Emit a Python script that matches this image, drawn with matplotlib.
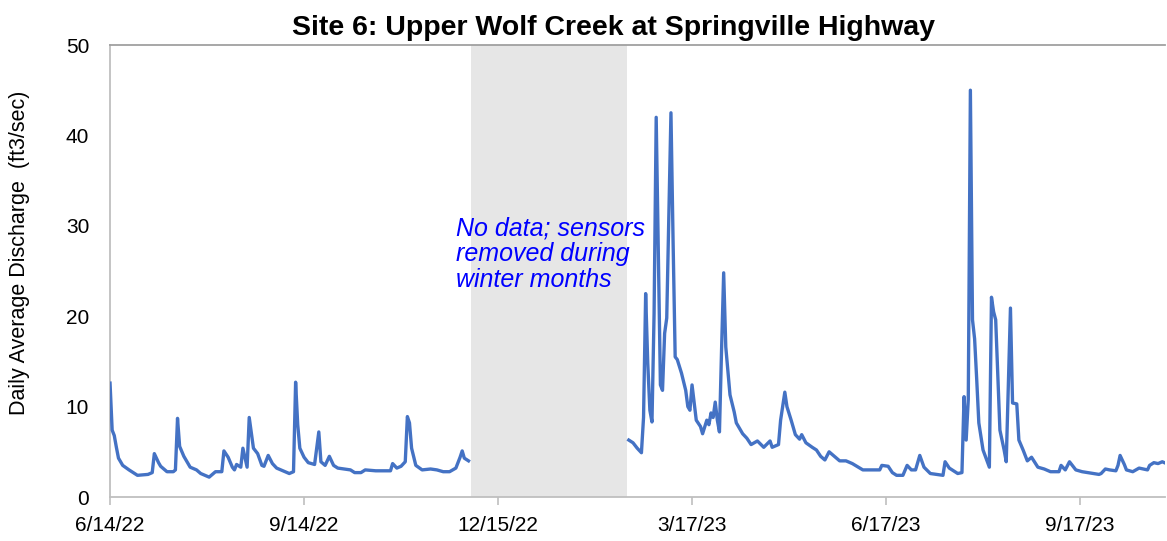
import matplotlib
matplotlib.use("Agg")
import matplotlib.pyplot as plt
import pandas as pd

start = pd.Timestamp("2022-06-14")

# Period 1 (summer/fall 2022): day offset from 6/14/22 and daily discharge (ft3/sec)
days_2022 = [0, 1, 2, 3, 4, 6, 9, 13, 18, 20, 21, 23, 24, 27, 30, 31, 32, 33, 35, 38,
             41, 43, 47, 50, 53, 54, 56, 58, 59, 60, 62, 63, 65, 66, 68, 70, 72, 73, 75, 77,
             79, 82, 85, 87, 88, 89, 90, 92, 94, 97, 99, 100, 102, 104, 106, 108, 111, 114, 116, 119,
             121, 126, 133, 134, 136, 138, 140, 141, 142, 143, 145, 148, 152, 155, 158, 161, 164, 166, 167, 168,
             170]
flow_2022 = [12.6, 7.4, 6.8, 5.5, 4.3, 3.5, 3.0, 2.4, 2.5, 2.7, 4.8, 3.8, 3.4, 2.8, 2.8, 3.0, 8.7, 5.6, 4.5, 3.3,
             3.0, 2.6, 2.2, 2.8, 2.8, 5.1, 4.4, 3.3, 3.0, 3.6, 3.3, 5.4, 3.3, 8.8, 5.4, 4.8, 3.5, 3.4, 4.6, 3.7,
             3.2, 2.9, 2.6, 2.8, 12.7, 8.0, 5.4, 4.4, 3.8, 3.6, 7.2, 3.9, 3.5, 4.5, 3.5, 3.2, 3.1, 3.0, 2.7, 2.7,
             3.0, 2.9, 2.9, 3.7, 3.2, 3.4, 3.9, 8.9, 8.2, 5.4, 3.5, 3.0, 3.1, 3.0, 2.8, 2.8, 3.2, 4.4, 5.1, 4.3,
             4.0]

# Period 2 (2023)
days_2023 = [246, 248, 250, 252, 253, 254, 255, 256, 257, 258, 259, 260, 261, 262, 263, 264, 266, 267, 268, 269,
             271, 273, 274, 275, 276, 278, 280, 281, 283, 284, 285, 286, 287, 288, 289, 290, 291, 292, 294, 296,
             297, 300, 302, 304, 307, 310, 313, 314, 317, 318, 320, 321, 323, 325, 327, 328, 330, 333, 335, 337,
             339, 341, 344, 346, 349, 352, 357, 365, 366, 369, 371, 373, 376, 378, 380, 382, 384, 386, 389, 395,
             396, 398, 402, 404, 405, 406, 407, 408, 409, 410, 411, 412, 414, 417, 418, 419, 420, 422, 424, 425,
             427, 428, 430, 431, 433, 435, 437, 440, 443, 446, 450, 451, 453, 455, 458, 461, 465, 469, 470, 472,
             474, 477, 478, 479, 481, 482, 485, 488, 490, 492, 493, 495, 497, 499, 500]
flow_2023 = [6.3, 6.0, 5.4, 4.9, 8.8, 22.5, 14.8, 9.6, 8.3, 20.3, 42.0, 27.0, 12.4, 11.8, 18.1, 19.8, 42.5, 28.4, 15.5, 15.2,
             13.7, 11.8, 10.0, 9.6, 12.4, 8.5, 7.8, 7.0, 8.5, 8.0, 9.3, 8.8, 10.5, 8.5, 7.2, 16.3, 24.8, 16.6, 11.3, 9.4,
             8.2, 7.0, 6.5, 5.8, 6.2, 5.5, 6.2, 5.5, 5.8, 8.5, 11.6, 10.0, 8.5, 6.9, 6.4, 6.9, 6.0, 5.5, 5.2, 4.5,
             4.1, 5.0, 4.4, 4.0, 4.0, 3.7, 3.0, 3.0, 3.5, 3.4, 2.7, 2.4, 2.4, 3.5, 3.0, 3.0, 4.6, 3.3, 2.6, 2.4,
             3.9, 3.2, 2.6, 2.7, 11.1, 6.3, 10.8, 45.0, 19.6, 17.5, 13.0, 8.2, 5.2, 3.3, 22.1, 20.5, 19.6, 7.4, 5.2, 3.9,
             20.9, 10.4, 10.3, 6.3, 5.2, 4.0, 4.4, 3.3, 3.1, 2.8, 2.8, 3.5, 3.0, 3.9, 3.0, 2.8, 2.65, 2.5, 2.6, 3.1,
             3.0, 2.9, 3.5, 4.6, 3.6, 3.0, 2.8, 3.2, 3.1, 3.0, 3.5, 3.8, 3.7, 3.9, 3.8]

gap_start = "2022-12-02"
gap_end = "2023-02-14"
x_ticks = ["2022-06-14", "2022-09-14", "2022-12-15", "2023-03-17", "2023-06-17", "2023-09-17"]
x_tick_labels = ["6/14/22", "9/14/22", "12/15/22", "3/17/23", "6/17/23", "9/17/23"]
y_ticks = [0, 10, 20, 30, 40, 50]

title = "Site 6: Upper Wolf Creek at Springville Highway"
ylabel = "Daily Average Discharge  (ft3/sec)"
note = "No data; sensors\nremoved during\nwinter months"

fam = ["Liberation Sans", "DejaVu Sans"]

line_color = "#4472C4"
spine_color = "#BFBFBF"

fig = plt.figure(figsize=(11.67, 5.41), dpi=100)
ax = fig.add_axes([0.0943, 0.0813, 0.904, 0.8355])

d1 = start + pd.to_timedelta(days_2022, unit="D")
d2 = start + pd.to_timedelta(days_2023, unit="D")
ax.axvspan(pd.Timestamp(gap_start), pd.Timestamp(gap_end), color="#E6E6E6", zorder=0, lw=0)
ax.plot(d1, flow_2022, color=line_color, lw=2.4, solid_joinstyle="round", zorder=3)
ax.plot(d2, flow_2023, color=line_color, lw=2.4, solid_joinstyle="round", zorder=3)

ax.set_xlim(start, start + pd.Timedelta(days=500.3))
ax.set_ylim(0, 50)
ax.set_xticks([pd.Timestamp(t) for t in x_ticks])
ax.set_xticklabels(x_tick_labels, family=fam, fontsize=15)
ax.set_yticks(y_ticks)
ax.set_yticklabels([str(v) for v in y_ticks], family=fam, fontsize=15)
ax.tick_params(axis="x", length=6, width=1.2, color=spine_color, pad=8)
ax.tick_params(axis="y", length=0, pad=15)

for s in ["left", "bottom"]:
    ax.spines[s].set_color(spine_color)
    ax.spines[s].set_linewidth(1.3)
ax.spines["top"].set_color("#A0A0A0")
ax.spines["top"].set_linewidth(1.3)
ax.spines["right"].set_visible(False)

ax.set_ylabel(ylabel, family=fam, fontsize=15.5)
ax.yaxis.set_label_coords(-0.076, 0.54)

fig.text(0.526, 0.948, title, ha="center", va="center", family=fam,
         fontsize=20.5, fontweight="bold")

ax.text(pd.Timestamp("2022-11-25"), 31.0, note, ha="left", va="top",
        family=fam, fontsize=18, style="italic", color="#0000FF", linespacing=1.08, zorder=4)

fig.savefig("out.png", dpi=100)
